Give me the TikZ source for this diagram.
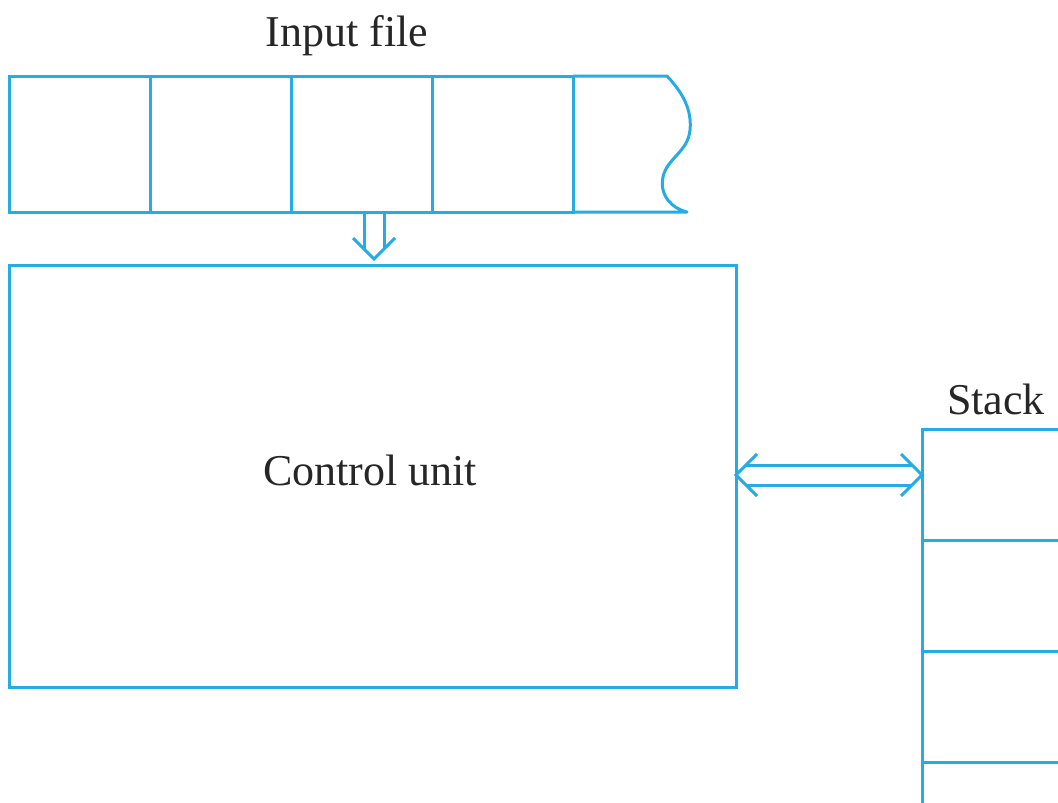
\documentclass[tikz,border=0pt]{standalone}
\usepackage{fontspec}
\setmainfont{Liberation Serif}
\definecolor{tapeblue}{RGB}{38,172,228}
\begin{document}
\begin{tikzpicture}[x=1pt,y=-1pt,
  line join=miter,
  ln/.style={draw=tapeblue,line width=3pt},
  cell/.style={ln,rectangle,inner sep=0pt,outer sep=0pt,anchor=north west,
    minimum width=141pt,minimum height=136pt},
  stackcell/.style={ln,rectangle,inner sep=0pt,outer sep=0pt,anchor=north west,
    minimum width=200pt,minimum height=111pt},
  lbl/.style={font=\fontsize{44}{50}\selectfont,text=black!85,inner sep=0pt},
  arrowline/.style={ln,line cap=butt}]
\useasboundingbox (0,0) rectangle (1058,803);
\clip (0,0) rectangle (1058,803);
% input tape
\node[cell] (c1) at (9,76) {};
\node[cell] (c2) at (c1.north east) {};
\node[cell] (c3) at (c2.north east) {};
\node[cell] (c4) at (c3.north east) {};
\coordinate (c5tl) at (667,76);
\coordinate (c5br) at (687,212);
\draw[ln,line join=round] (c4.north east) -- (c5tl)
  .. controls (683,93) and (692,110) .. (690,130)
  .. controls (688,152) and (667,158) .. (663,177)
  .. controls (659,196) and (673,209) .. (c5br)
  -- (c4.south east);
\node[lbl] (inlbl) at (347,36) {Input file};
% control unit
\node[ln,rectangle,inner sep=0pt,outer sep=0pt,anchor=north west,
  minimum width=727pt,minimum height=422pt] (cu) at (9,265) {};
\node[lbl] at (370,470) {Control unit};
% stack
\node[stackcell] (s1) at (922,429) {};
\node[stackcell] (s2) at (s1.south west) {};
\node[stackcell] (s3) at (s2.south west) {};
\node[stackcell] (s4) at (s3.south west) {};
\node[lbl] (stlbl) at (996,399) {Stack};
% down double arrow
\coordinate (dtip) at (374,259);
\draw[arrowline] (364,212) -- (364,249);
\draw[arrowline] (384,212) -- (384,249);
\draw[arrowline] (353,238) -- (dtip) -- (395,238);
% horizontal double arrow
\coordinate (ltip) at (cu.east |- 0,475);
\coordinate (rtip) at (s1.west |- 0,475);
\draw[arrowline] ([xshift=10pt,yshift=-10pt]ltip) -- ([xshift=-10pt,yshift=-10pt]rtip);
\draw[arrowline] ([xshift=10pt,yshift=10pt]ltip) -- ([xshift=-10pt,yshift=10pt]rtip);
\draw[arrowline] ([xshift=21pt,yshift=-21pt]ltip) -- (ltip) -- ([xshift=21pt,yshift=21pt]ltip);
\draw[arrowline] ([xshift=-21pt,yshift=-21pt]rtip) -- (rtip) -- ([xshift=-21pt,yshift=21pt]rtip);
\end{tikzpicture}
\end{document}
